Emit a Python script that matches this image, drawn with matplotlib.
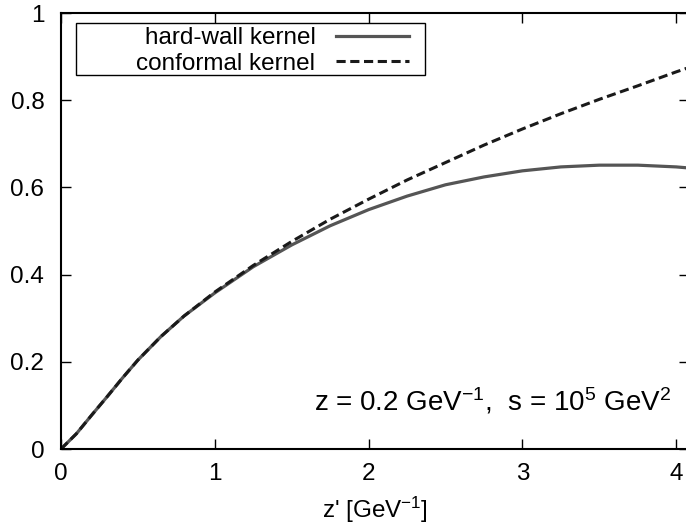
import numpy as np
import matplotlib
matplotlib.use('Agg')
import matplotlib.pyplot as plt
from matplotlib.patches import Rectangle

plt.rcParams['font.family'] = ['Liberation Sans', 'DejaVu Sans']
plt.rcParams['mathtext.fontset'] = 'custom'
plt.rcParams['mathtext.rm'] = 'Liberation Sans'
plt.rcParams['mathtext.it'] = 'Liberation Sans'
plt.rcParams['mathtext.default'] = 'regular'

# values
z_hard = [0.0, 0.1, 0.2, 0.3, 0.4, 0.5, 0.65, 0.8, 1.0, 1.25, 1.5, 1.75, 2.0, 2.25, 2.5,
          2.75, 3.0, 3.25, 3.5, 3.75, 4.0, 4.1]
k_hard = [0.0, 0.035, 0.078, 0.12, 0.163, 0.204, 0.258, 0.305, 0.358, 0.418, 0.468, 0.512,
          0.549, 0.58, 0.606, 0.624, 0.638, 0.647, 0.651, 0.651, 0.647, 0.644]

z_conf = [0.0, 0.1, 0.2, 0.3, 0.4, 0.5, 0.65, 0.8, 1.0, 1.25, 1.5, 1.75, 2.0, 2.25, 2.5,
          2.75, 3.0, 3.25, 3.5, 3.75, 4.0, 4.1]
k_conf = [0.0, 0.035, 0.078, 0.12, 0.163, 0.204, 0.258, 0.305, 0.36, 0.421, 0.476, 0.527,
          0.573, 0.617, 0.657, 0.697, 0.734, 0.769, 0.802, 0.833, 0.865, 0.877]

xticks = [0, 1, 2, 3, 4]
yticks = [0, 0.2, 0.4, 0.6, 0.8, 1]
ytick_labels = ['0', '0.2', '0.4', '0.6', '0.8', '1']

W, H = 686, 529
fig = plt.figure(figsize=(W / 100, H / 100), dpi=100)
ax = fig.add_axes([61 / W, 80 / H, 628 / W, 436 / H])

ax.plot(z_hard, k_hard, color='#555555', lw=2.3, label='hard-wall kernel')
ax.plot(z_conf, k_conf, color='#1a1a1a', lw=2.2, linestyle=(0, (3.0, 1.5)), label='conformal kernel')

ax.set_xlim(0, 4.083)
ax.set_ylim(0, 1)
ax.set_xticks(xticks)
ax.set_xticklabels([str(t) for t in xticks])
ax.set_yticks(yticks)
ax.set_yticklabels(ytick_labels)
ax.tick_params(direction='in', length=7, width=1, labelsize=17.5, top=True, right=True)
ax.tick_params(axis='x', pad=10)
ax.tick_params(axis='y', pad=12)
for s in ax.spines.values():
    s.set_linewidth(1.5)

ax.set_xlabel("z' [GeV$^{-1}$]", fontsize=17.5, labelpad=7)

# legend: text on the left, sample line on the right, square box around it
leg = ax.legend(loc='upper right', bbox_to_anchor=(409 / W, 1 - 27 / H),
                bbox_transform=fig.transFigure, markerfirst=False, fontsize=17.5,
                frameon=False, handlelength=3.0, borderpad=0, labelspacing=0.15,
                handletextpad=0.85, borderaxespad=0)
for t in leg.get_texts():
    t.set_ha('right')
leg._legend_box.align = 'right'
fig.patches.append(Rectangle((76 / W, 1 - 75 / H), 349 / W, 52 / H, transform=fig.transFigure,
                             fill=False, edgecolor='black', lw=1.0))

ax.text(3.97, 0.089, 'z = 0.2 GeV$^{-1}$,  s = 10$^5$ GeV$^2$', fontsize=20,
        ha='right', va='baseline')

fig.savefig('out.png', dpi=100)
